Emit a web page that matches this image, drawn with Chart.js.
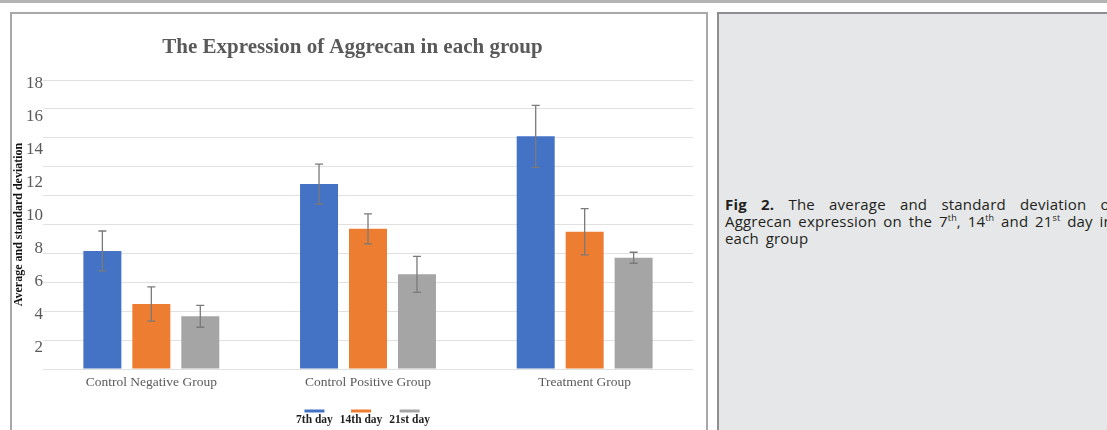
<!DOCTYPE html>
<html>
<head>
<meta charset="utf-8">
<script src="https://cdn.jsdelivr.net/npm/chart.js@4.4.1/dist/chart.umd.min.js"></script>
<style>
  html, body { margin: 0; padding: 0; background: #ffffff; overflow: hidden; width: 1107px; height: 430px; }
  #topline { position: absolute; left: 0; top: 0; width: 1107px; height: 3px; background: #b4b4b4; }
  #panel { position: absolute; left: 10px; top: 12px; width: 694px; height: 440px; border: 2px solid #a8a8a8; background: #ffffff; }
  #box { position: absolute; left: 0; top: 0; width: 694px; height: 416px; }
  #side { position: absolute; left: 717px; top: 12px; width: 420px; height: 440px; border: 2px solid #8e8e8e; background: #e6e7e8; }
  #caption { position: absolute; left: 725px; top: 196px; width: 390px; font-family: "Open Sans", sans-serif; font-size: 15px; letter-spacing: 0.2px; word-spacing: 2.6px; line-height: 17px; color: #231f20; }
  #caption div { white-space: nowrap; }
  #caption .j { text-align: justify; text-align-last: justify; }
  #caption sup { font-size: 0.6em; vertical-align: super; line-height: 0; }
</style>
</head>
<body>
<div id="topline"></div>
<div id="panel">
  <div id="box"><canvas id="aggChart"></canvas></div>
</div>
<div id="side"></div>
<div id="caption">
  <div class="j"><b>Fig 2.</b> The average and standard deviation of</div>
  <div>Aggrecan expression on the 7<sup>th</sup>, 14<sup>th</sup> and 21<sup>st</sup> day in</div>
  <div>each group</div>
</div>

<script>
  // Groups and series
  var groups = ['Control Negative Group', 'Control Positive Group', 'Treatment Group'];
  var day7 = [8.17, 12.8, 16.1];
  var day14 = [4.5, 9.7, 9.5];
  var day21 = [3.65, 6.55, 7.7];
  // standard deviations (error bars)
  var day7Sd = [1.38, 1.38, 2.15];
  var day14Sd = [1.18, 1.04, 1.6];
  var day21Sd = [0.76, 1.25, 0.38];
  // labels printed on the value axis
  var yTickLabels = [2, 4, 6, 8, 10, 12, 14, 16, 18];

  var serif = '"Liberation Serif", "Times New Roman", serif';

  // Error bars drawn with the y scale of the chart
  var errorBars = {
    id: 'errorBars',
    afterDatasetsDraw: function(chart) {
      var ctx = chart.ctx;
      var yScale = chart.scales.y;
      ctx.save();
      ctx.strokeStyle = '#7a7a7a';
      ctx.lineWidth = 1.3;
      chart.data.datasets.forEach(function(ds, i) {
        var meta = chart.getDatasetMeta(i);
        meta.data.forEach(function(bar, j) {
          var v = ds.data[j];
          var sd = ds.sd[j];
          var top = yScale.getPixelForValue(v + sd);
          var bottom = yScale.getPixelForValue(v - sd);
          ctx.beginPath();
          ctx.moveTo(bar.x, top);
          ctx.lineTo(bar.x, bottom);
          ctx.moveTo(bar.x - 4, top);
          ctx.lineTo(bar.x + 4, top);
          ctx.moveTo(bar.x - 4, bottom);
          ctx.lineTo(bar.x + 4, bottom);
          ctx.stroke();
        });
      });
      ctx.restore();
    }
  };

  // Legend with the colour line above each label
  var lineLegend = {
    id: 'lineLegend',
    afterDraw: function(chart) {
      var ctx = chart.ctx;
      var area = chart.chartArea;
      ctx.save();
      ctx.font = 'bold 11.5px ' + serif;
      var gap = 7;
      var widths = chart.data.datasets.map(function(ds) { return ctx.measureText(ds.label).width; });
      var total = widths.reduce(function(a, b) { return a + b; }, 0) + gap * (widths.length - 1);
      var x = (area.left + area.right) / 2 - 5 - total / 2;
      var baseY = area.bottom + 54;
      chart.data.datasets.forEach(function(ds, i) {
        var cx = x + widths[i] / 2;
        ctx.fillStyle = ds.backgroundColor;
        ctx.fillRect(cx - 10, baseY - 13.5, 20, 3);
        ctx.fillStyle = '#1f1f1f';
        ctx.textAlign = 'center';
        ctx.textBaseline = 'alphabetic';
        ctx.fillText(ds.label, cx, baseY);
        x += widths[i] + gap;
      });
      ctx.restore();
    }
  };

  var data = {
    labels: groups,
    datasets: [
      { label: '7th day', data: day7, sd: day7Sd, yAxisID: 'y', backgroundColor: '#4472c4' },
      { label: '14th day', data: day14, sd: day14Sd, yAxisID: 'y', backgroundColor: '#ed7d31' },
      { label: '21st day', data: day21, sd: day21Sd, yAxisID: 'y', backgroundColor: '#a5a5a5' }
    ]
  };

  var options = {
    responsive: true,
    maintainAspectRatio: false,
    animation: false,
    layout: { padding: { top: 0, left: 0, right: 13, bottom: 33 } },
    datasets: {
      bar: { categoryPercentage: 0.678, barPercentage: 0.776 }
    },
    plugins: {
      legend: { display: false },
      tooltip: { enabled: false },
      title: {
        display: true,
        text: 'The Expression of Aggrecan in each group',
        color: '#595959',
        font: { family: serif, size: 21, weight: 'bold' },
        padding: { top: 21.4, bottom: 19.4 }
      }
    },
    scales: {
      x: {
        grid: { display: false, drawTicks: false },
        border: { display: false },
        ticks: { color: '#595959', font: { family: serif, size: 13.5 }, padding: 5, maxRotation: 0 },
        afterFit: function(scale) { scale.height = 28; }
      },
      yLabel: {
        type: 'linear',
        position: 'left',
        min: 0.727,
        max: 18.24,
        grid: { display: false, drawTicks: false },
        border: { display: false },
        ticks: { color: '#595959', font: { family: serif, size: 17 }, padding: 0 },
        afterBuildTicks: function(scale) {
          scale.ticks = yTickLabels.map(function(v) { return { value: v }; });
        },
        title: {
          display: true,
          text: 'Average and standard deviation',
          color: '#111111',
          font: { family: serif, size: 12, weight: 'bold' },
          padding: { top: 0, bottom: 0 }
        },
        afterFit: function(scale) { scale.width = 31; }
      },
      y: {
        type: 'linear',
        position: 'left',
        min: 0,
        max: 20,
        ticks: { display: false, stepSize: 2 },
        grid: { color: '#e1e1e1', lineWidth: 1, drawTicks: false },
        border: { display: false },
        afterFit: function(scale) { scale.width = 0; }
      }
    }
  };

  var ctx = document.getElementById('aggChart').getContext('2d');

  var aggChart = new Chart(ctx, {
    type: 'bar',
    data: data,
    options: options,
    plugins: [errorBars, lineLegend]
  });
</script>
</body>
</html>
